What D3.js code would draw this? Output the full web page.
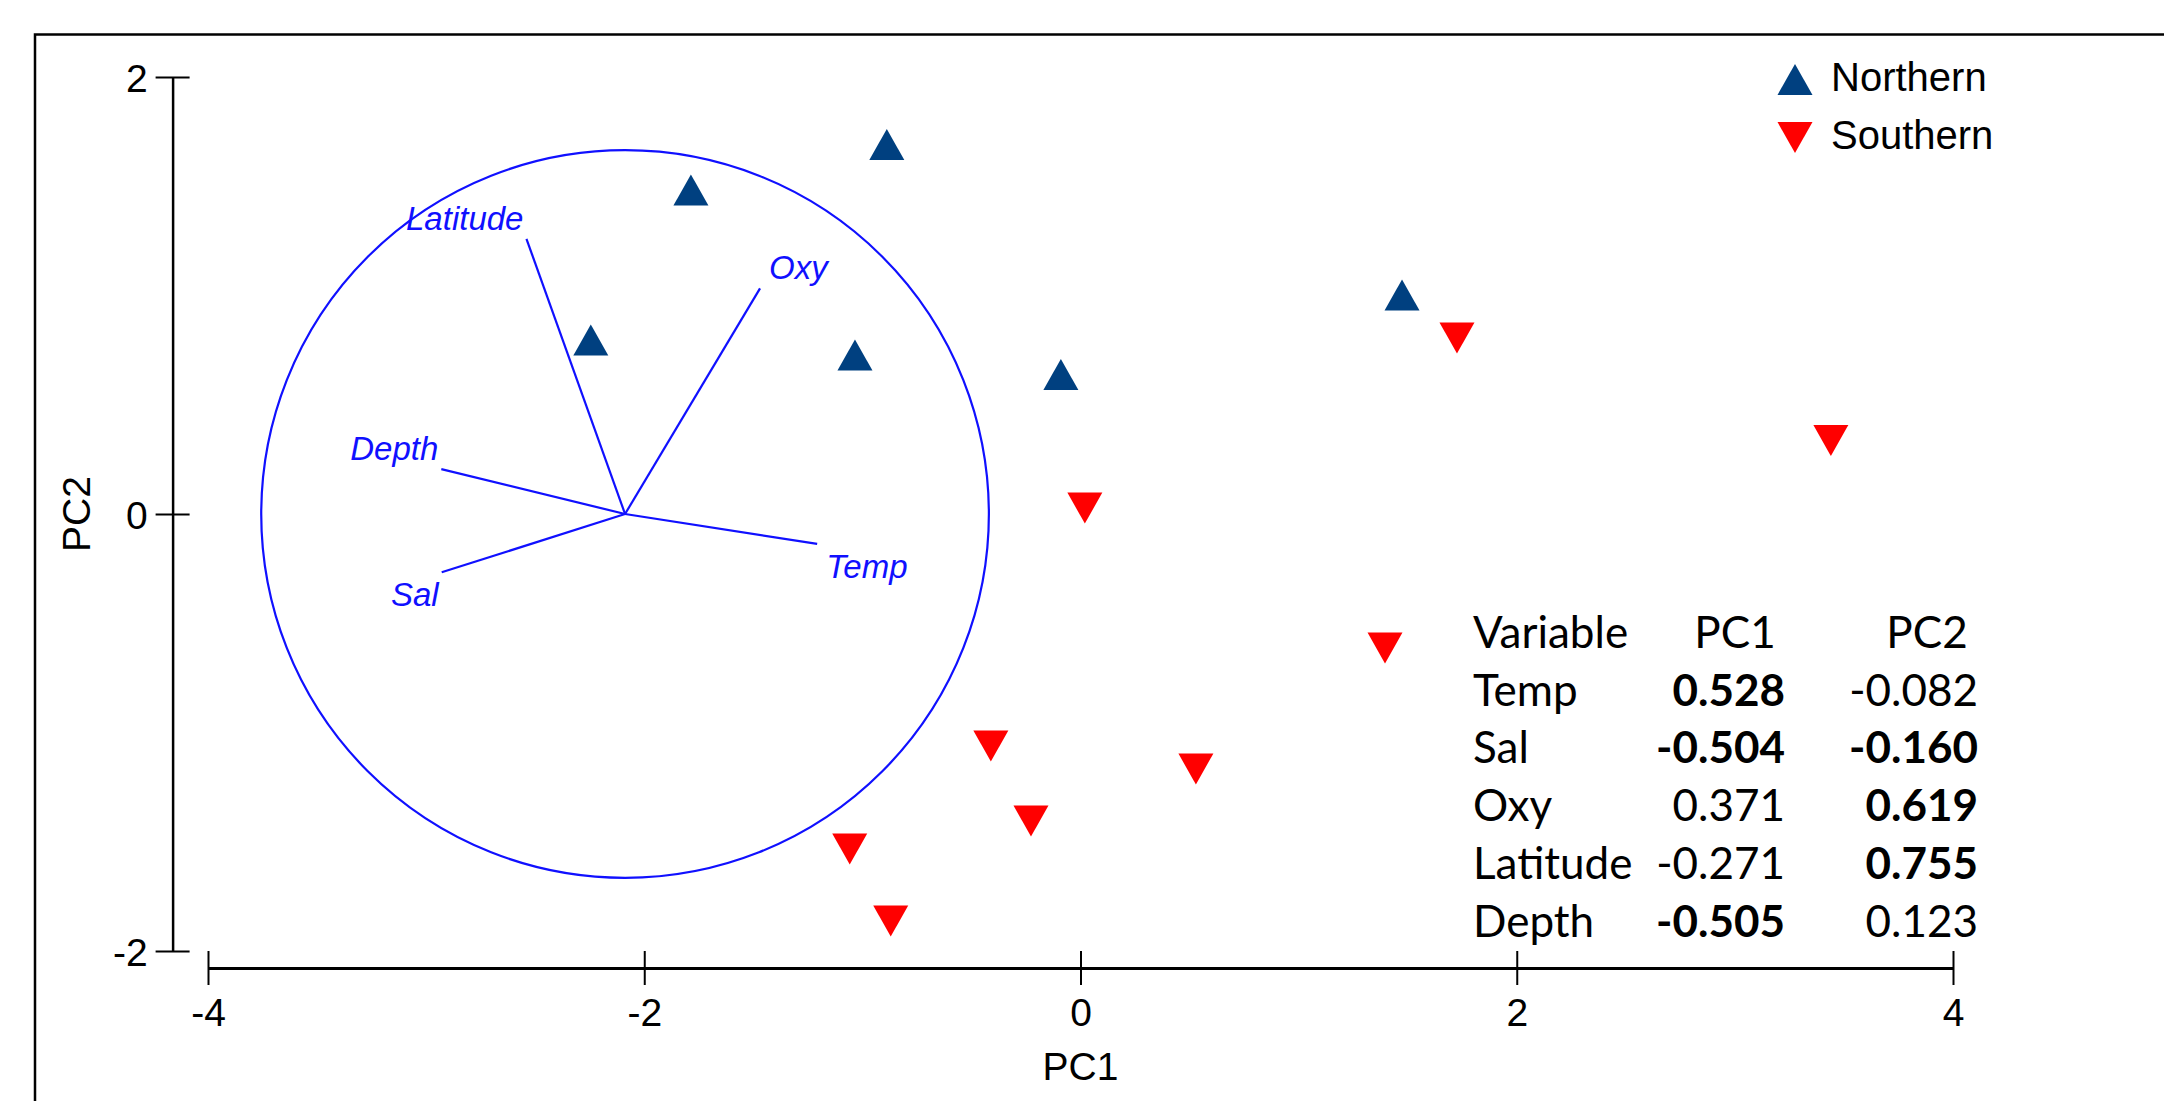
<!DOCTYPE html>
<html>
<head>
<meta charset="utf-8">
<script src="https://cdn.jsdelivr.net/npm/d3@7"></script>
<style>
  html, body { margin: 0; padding: 0; background: #fff; }
  svg { display: block; }
</style>
</head>
<body>
<svg id="chart" width="2164" height="1101"></svg>
<script>
// ---------- data ----------
const northPC1 = [-0.888, -1.786, -2.245, -1.034, -0.090, 1.474];
const northPC2 = [1.691, 1.483, 0.796, 0.728, 0.638, 1.002];
const southPC1 = [1.726, 3.440, 0.020, 1.396, -0.411, 0.529, -0.227, -1.058, -0.870];
const southPC2 = [0.805, 0.336, 0.027, -0.613, -1.062, -1.167, -1.405, -1.533, -1.863];

const variables = ["Temp", "Sal", "Oxy", "Latitude", "Depth"];
const loadPC1 = [0.528, -0.504, 0.371, -0.271, -0.505];
const loadPC2 = [-0.082, -0.160, 0.619, 0.755, 0.123];
const boldPC1 = [true, true, false, false, true];
const boldPC2 = [false, true, true, true, false];

const circleCenter = [-2.088, 0];
const circleRadius = 1.668;

const xTicks = [-4, -2, 0, 2, 4];
const yTicks = [-2, 0, 2];
const legendLabels = ["Northern", "Southern"];
const tableHeaders = ["Variable", "PC1", "PC2"];

// ---------- setup ----------
const svg = d3.select("#chart");
const x = d3.scaleLinear().domain([-4, 4]).range([208, 1953]);
const y = d3.scaleLinear().domain([-2, 2]).range([951, 77]);

const colNorth = "#004080";
const colSouth = "#ff0000";
const colVec = "#1010ff";
const axisFont = "'Liberation Sans', Arial, sans-serif";
const tableFont = "Lato, 'Open Sans', sans-serif";
const fmt = d => String(d);
const fmt3 = d => d.toFixed(3);

// frame
svg.append("path")
  .attr("d", "M35,2200 L35,34.5 L2200,34.5")
  .attr("fill", "none").attr("stroke", "#000").attr("stroke-width", 2.5);

// ---------- axes ----------
const xAxisY = 968;
const yAxisX = 172.6;

const gx = svg.append("g").attr("transform", `translate(0,${xAxisY})`)
  .call(d3.axisBottom(x).tickValues(xTicks).tickSizeOuter(0).tickFormat(fmt));
const gy = svg.append("g").attr("transform", `translate(${yAxisX},0)`)
  .call(d3.axisLeft(y).tickValues(yTicks).tickSizeOuter(0).tickFormat(fmt));

[gx, gy].forEach(g => {
  g.select(".domain").attr("stroke", "#000").attr("stroke-width", 2.5);
  g.selectAll(".tick line").attr("stroke", "#000").attr("stroke-width", 2);
  g.selectAll(".tick text").attr("fill", "#000")
    .style("font-family", axisFont).style("font-size", "39px");
});
gx.select(".domain").attr("stroke-width", 3);
gx.selectAll(".tick line").attr("y1", -17).attr("y2", 17);
gx.selectAll(".tick text").attr("y", 58).attr("dy", 0).attr("text-anchor", "middle");
gy.selectAll(".tick line").attr("x1", -17).attr("x2", 17);
gy.selectAll(".tick text").attr("x", -25).attr("dy", "0.36em").attr("text-anchor", "end");

// axis titles
svg.append("text").attr("x", x(0)).attr("y", 1080)
  .attr("text-anchor", "middle")
  .style("font-family", axisFont).style("font-size", "39px")
  .text("PC1");
svg.append("text")
  .attr("transform", `translate(90,${y(0)}) rotate(-90)`)
  .attr("text-anchor", "middle")
  .style("font-family", axisFont).style("font-size", "39px")
  .text("PC2");

// ---------- correlation circle and vectors ----------
const cx = x(circleCenter[0]), cy = y(circleCenter[1]);
const rPx = x(circleCenter[0] + circleRadius) - cx;
svg.append("circle").attr("cx", cx).attr("cy", cy).attr("r", rPx)
  .attr("fill", "none").attr("stroke", colVec).attr("stroke-width", 2.2);

const vecData = variables.map((v, i) => ({
  name: v,
  ex: x(circleCenter[0] + loadPC1[i] * circleRadius),
  ey: y(circleCenter[1] + loadPC2[i] * circleRadius),
  dx: loadPC1[i], dy: loadPC2[i]
}));

svg.append("g").selectAll("line").data(vecData).join("line")
  .attr("x1", cx).attr("y1", cy)
  .attr("x2", d => d.ex).attr("y2", d => d.ey)
  .attr("stroke", colVec).attr("stroke-width", 2.2);

svg.append("g").selectAll("text").data(vecData).join("text")
  .attr("x", d => d.dx < 0 ? d.ex - 3 : d.ex + 9)
  .attr("y", d => d.dy > 0 ? d.ey - 9 : d.ey + 34)
  .attr("text-anchor", d => d.dx < 0 ? "end" : "start")
  .attr("fill", colVec)
  .style("font-family", axisFont).style("font-size", "33px").style("font-style", "italic")
  .text(d => d.name);

// ---------- points ----------
const triW = 35, triH = 31;
const upPath = `M0,${-triH / 2}L${triW / 2},${triH / 2}L${-triW / 2},${triH / 2}Z`;
const downPath = `M0,${triH / 2}L${triW / 2},${-triH / 2}L${-triW / 2},${-triH / 2}Z`;

const north = northPC1.map((v, i) => [v, northPC2[i]]);
const south = southPC1.map((v, i) => [v, southPC2[i]]);

svg.append("g").selectAll("path").data(north).join("path")
  .attr("d", upPath)
  .attr("transform", d => `translate(${x(d[0])},${y(d[1])})`)
  .attr("fill", colNorth);
svg.append("g").selectAll("path").data(south).join("path")
  .attr("d", downPath)
  .attr("transform", d => `translate(${x(d[0])},${y(d[1])})`)
  .attr("fill", colSouth);

// ---------- legend ----------
const legend = svg.append("g");
const legY = [79.5, 137.5];
legendLabels.forEach((lab, i) => {
  legend.append("path").attr("d", i === 0 ? upPath : downPath)
    .attr("transform", `translate(1795,${legY[i]})`)
    .attr("fill", i === 0 ? colNorth : colSouth);
  legend.append("text").attr("x", 1831).attr("y", legY[i] + 11)
    .style("font-family", axisFont).style("font-size", "40px")
    .text(lab);
});

// ---------- table ----------
const table = svg.append("g").style("font-family", tableFont).style("font-size", "44px").attr("fill", "#000");
const rowY0 = 648, rowStep = 57.7;
table.append("text").attr("x", 1473).attr("y", rowY0).text(tableHeaders[0]);
table.append("text").attr("x", 1735).attr("y", rowY0).attr("text-anchor", "middle").text(tableHeaders[1]);
table.append("text").attr("x", 1927).attr("y", rowY0).attr("text-anchor", "middle").text(tableHeaders[2]);
variables.forEach((v, i) => {
  const yy = rowY0 + rowStep * (i + 1);
  table.append("text").attr("x", 1473).attr("y", yy).text(v);
  table.append("text").attr("x", 1785).attr("y", yy).attr("text-anchor", "end")
    .style("font-weight", boldPC1[i] ? 700 : 400).text(fmt3(loadPC1[i]));
  table.append("text").attr("x", 1978).attr("y", yy).attr("text-anchor", "end")
    .style("font-weight", boldPC2[i] ? 700 : 400).text(fmt3(loadPC2[i]));
});
</script>
</body>
</html>
